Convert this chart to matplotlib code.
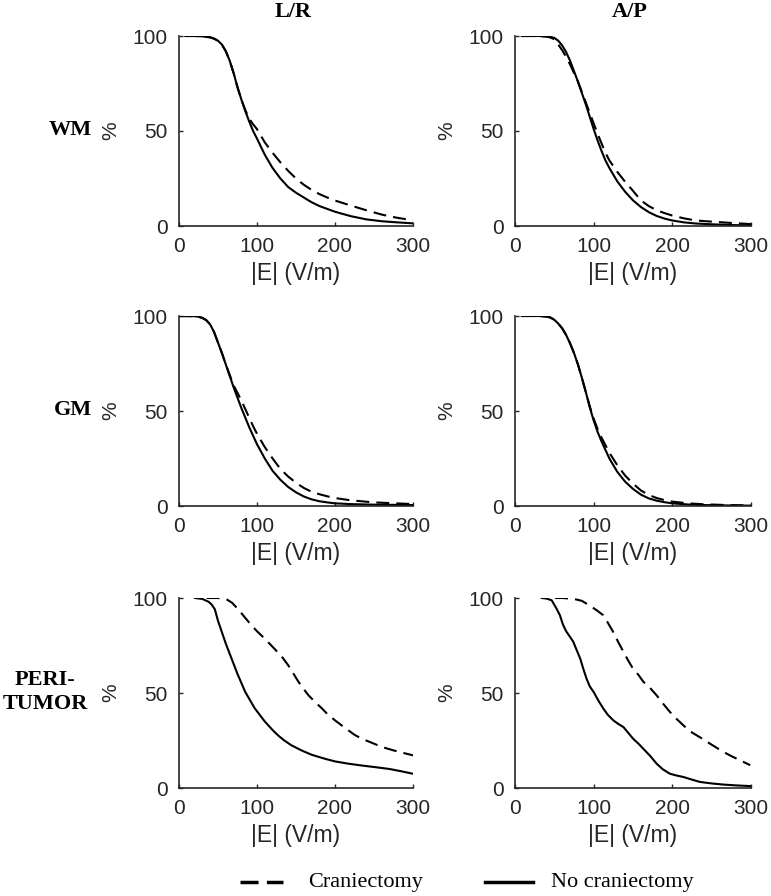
import matplotlib
matplotlib.use('Agg')
import matplotlib.pyplot as plt
from matplotlib.lines import Line2D

# 数据
# WM L/R
wm_lr_x = [8, 20, 30, 40, 45, 50, 55, 60, 65, 70, 75, 80, 85, 90, 95, 100, 110, 120, 130, 140,
           150, 160, 170, 180, 190, 200, 220, 240, 260, 280, 300]
wm_lr_no = [100, 100, 99.8, 99.3, 98.6, 97.5, 95.5, 92, 87, 80.5, 73, 66.5, 60.5, 55, 50, 46, 37.5,
            30.5, 25, 20.5, 17.5, 15, 12.5, 10.5, 9, 7.5, 5.2, 3.5, 2.5, 1.9, 1.4]
wm_lr_cr = [100, 100, 99.8, 99.3, 98.6, 97.5, 95.5, 92, 87, 80.5, 73, 66.5, 61, 56.5, 53.5, 51, 44,
            38.5, 33.5, 29, 25, 21.7, 19, 16.8, 15, 13.4, 10.8, 8.3, 6, 4.3, 3]
# WM A/P
wm_ap_x = [8.5, 30, 40, 45, 50, 55, 60, 65, 70, 75, 80, 85, 90, 95, 100, 105, 110, 115, 120, 130,
           140, 150, 160, 170, 180, 190, 200, 215, 230, 250, 275, 300]
wm_ap_no = [100, 100, 99.8, 99.5, 99, 97.5, 95, 91.5, 87, 81.5, 76, 70, 64, 57.5, 51, 45, 39.5,
            34.5, 30.5, 23.5, 18, 13.5, 10, 7.3, 5.3, 3.9, 2.9, 1.9, 1.3, 0.9, 0.5, 0.3]
wm_ap_cr = [100, 100, 99.7, 99.2, 98.3, 95.5, 92.5, 89, 85, 80.5, 76, 70.5, 65, 59.5, 54, 48.5, 43.5,
            38.5, 34.5, 28.5, 23.3, 18.5, 13.5, 10.5, 8.3, 6.8, 5.5, 4, 2.9, 2.3, 1.6, 1]
# GM L/R
gm_lr_x = [0, 20, 25, 30, 35, 40, 45, 50, 55, 60, 65, 70, 75, 80, 85, 90, 95, 100, 110, 120, 130,
           140, 150, 160, 170, 180, 190, 200, 220, 250, 300]
gm_lr_no = [100, 99.9, 99.6, 99, 97.8, 95.5, 91.5, 86, 80.5, 74.5, 68.5, 62.5, 57, 51.5, 46.5, 41.5,
            37, 32.5, 25, 18.5, 13.8, 10, 7.2, 5, 3.5, 2.5, 1.9, 1.4, 1, 0.7, 0.5]
gm_lr_cr = [100, 99.9, 99.6, 99, 97.8, 95.5, 91.5, 86, 80.5, 74.5, 69, 63.5, 59.5, 55.5, 51, 46.5,
            42, 38, 31, 25, 19.5, 15.5, 12.2, 9.5, 7.5, 6.2, 5.1, 4.2, 3, 1.9, 1]
# GM A/P
gm_ap_x = [8.5, 30, 40, 45, 50, 55, 60, 65, 70, 75, 80, 85, 90, 95, 100, 105, 110, 115, 120, 130,
           140, 150, 160, 170, 180, 190, 200, 220, 240, 270, 300]
gm_ap_no = [100, 100, 99.7, 99.2, 98, 96, 93.5, 90, 85.6, 80.5, 74.5, 67.5, 60, 52, 45, 39, 34,
            29.5, 25, 18, 12.8, 9, 6, 4, 2.8, 2, 1.4, 0.8, 0.5, 0.3, 0.2]
gm_ap_cr = [100, 100, 99.7, 99.2, 98, 96, 93.5, 90, 85.6, 80.5, 74.5, 67.5, 60, 52.5, 46, 40.5, 36,
            32, 28, 21.5, 16, 11.8, 8.2, 5.8, 4.2, 3.1, 2.3, 1.4, 0.9, 0.5, 0.3]
# PERI-TUMOR L/R
pt_lr_x_no = [20.5, 30, 38, 42, 46, 50, 55, 60, 67.5, 75, 85, 97, 110, 120, 127, 135, 144, 157,
              170, 187, 200, 217, 235, 251, 270, 285, 300]
pt_lr_no = [100, 99.5, 98, 96.5, 94, 88, 82, 76, 68, 60, 50.5, 42, 35, 30.5, 27.7, 25, 22.5, 19.8,
            17.5, 15.4, 14, 12.8, 11.8, 11, 10, 8.8, 7.5]
pt_lr_x_cr = [35.5, 50, 61, 68, 76, 85, 93, 100, 110, 123, 133, 140, 147, 153, 160, 166, 175, 183,
              190, 200, 210, 217, 225, 234, 246, 260, 275, 290, 300]
pt_lr_cr = [100, 100, 99.3, 97.5, 94, 89.5, 85.6, 82.5, 78.6, 73, 68.5, 64.6, 60, 56, 52, 48.8, 45,
            42, 39, 35.6, 32.5, 30.4, 28, 26, 24, 21.6, 19.8, 18.2, 17.2]
# PERI-TUMOR A/P
pt_ap_x_no = [34, 40, 46.6, 52, 57, 61, 65, 70, 74, 78, 83, 87, 91, 95, 100, 106, 112, 118, 125,
              131, 138, 144, 150, 157, 163, 172, 180, 188, 197, 205, 214, 225, 235, 250, 265, 280, 299]
pt_ap_no = [100, 99.7, 98.8, 95, 91, 86, 82.5, 79.5, 77, 73, 68, 62.5, 57.5, 53.5, 50.5, 46, 42,
            38.5, 35.6, 33.8, 32, 29, 26, 23.3, 20.7, 16.8, 12.8, 9.8, 7.5, 6.6, 5.8, 4.4, 3.2, 2.4,
            1.8, 1.4, 1]
pt_ap_x_cr = [51, 60, 74, 85, 95, 104, 112, 118, 125, 131, 138, 144, 150, 157, 163, 172, 180, 188,
              197, 205, 214, 222, 231, 240, 248, 257, 265, 274, 282, 290, 299]
pt_ap_cr = [100, 100, 99.6, 98.5, 96, 93.5, 91, 87, 82, 77, 71.6, 67, 62.8, 59.5, 56, 52.5, 48.8,
            44.5, 40, 36.5, 33, 30, 27.7, 25.5, 23.3, 21, 19, 17, 15.4, 13.8, 12]

rows = ['WM', 'GM', 'PERI-\nTUMOR']
cols = ['L/R', 'A/P']
data = [
    [(wm_lr_x, wm_lr_cr, wm_lr_x, wm_lr_no), (wm_ap_x, wm_ap_cr, wm_ap_x, wm_ap_no)],
    [(gm_lr_x, gm_lr_cr, gm_lr_x, gm_lr_no), (gm_ap_x, gm_ap_cr, gm_ap_x, gm_ap_no)],
    [(pt_lr_x_cr, pt_lr_cr, pt_lr_x_no, pt_lr_no), (pt_ap_x_cr, pt_ap_cr, pt_ap_x_no, pt_ap_no)],
]

W, H = 771, 896
fig = plt.figure(figsize=(W / 100, H / 100), dpi=100)
gray = '#262626'
dash = (0, (6.2, 3.4))
lw = 1.5
sans = 'Liberation Sans'
serif = 'Liberation Serif'

# 坐标轴位置 (像素)
lefts = [179, 515]
widths = [234, 236]
tops = [36, 316, 598]
ah = 190

for i in range(3):
    for j in range(2):
        ax = fig.add_axes([lefts[j] / W, 1 - (tops[i] + ah) / H, widths[j] / W, ah / H])
        xc, yc, xn, yn = data[i][j]
        ax.plot(xc, yc, color='k', lw=lw, linestyle=dash)
        ax.plot(xn, yn, color='k', lw=lw)
        ax.set_xlim(0, 300)
        ax.set_ylim(0, 100)
        ax.set_xticks([0, 100, 200, 300])
        ax.set_yticks([0, 50, 100])
        for s in ['top', 'right']:
            ax.spines[s].set_visible(False)
        for s in ['left', 'bottom']:
            ax.spines[s].set_color(gray)
            ax.spines[s].set_linewidth(1.2)
        ax.tick_params(direction='in', length=3, width=1, colors=gray, labelsize=15, pad=8,
                       labelcolor=gray)
        for lab in ax.get_xticklabels() + ax.get_yticklabels():
            lab.set_family(sans)
        ax.set_xlabel('|E| (V/m)', fontsize=16.5, color=gray, family=sans, labelpad=4)
        ax.set_ylabel('%', fontsize=15, color=gray, family=sans, labelpad=9)
        if i == 0:
            fig.text((lefts[j] + widths[j] / 2) / W - 3 / W, 1 - 12 / H, cols[j], ha='center',
                     va='center', fontsize=16, fontweight='bold', family=serif)

# 行标签
fig.text(92 / W, 1 - 130 / H, rows[0], ha='right', va='center', fontsize=16,
         fontweight='bold', family=serif)
fig.text(92 / W, 1 - 410 / H, rows[1], ha='right', va='center', fontsize=16,
         fontweight='bold', family=serif)
fig.text(45 / W, 1 - 692 / H, rows[2], ha='center', va='center', fontsize=16,
         fontweight='bold', family=serif, linespacing=1.25)

# 图例 (手动放置)
ly = 1 - 882 / H
fig.add_artist(Line2D([240 / W, 283 / W], [ly, ly], transform=fig.transFigure, color='k',
                      lw=2.5, linestyle=(0, (5.2, 2.4))))
fig.text(308 / W, ly, 'Craniectomy', ha='left', va='center', fontsize=16, family=serif)
fig.add_artist(Line2D([485 / W, 533 / W], [ly, ly], transform=fig.transFigure, color='k',
                      lw=2.5))
fig.text(551 / W, ly, 'No craniectomy', ha='left', va='center', fontsize=16, family=serif)

fig.savefig('out.png', dpi=100)
